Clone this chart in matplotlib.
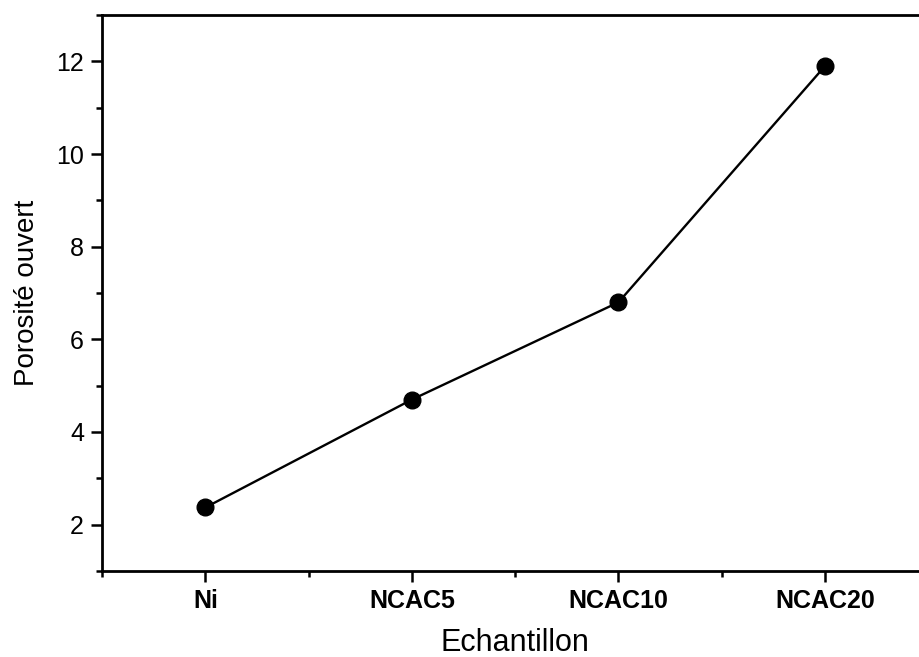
import matplotlib.pyplot as plt
import numpy as np
from matplotlib.ticker import MultipleLocator

plt.rcParams['font.family'] = ['Liberation Sans', 'DejaVu Sans']

samples = ['Ni', 'NCAC5', 'NCAC10', 'NCAC20']
porosity = [2.37, 4.7, 6.8, 11.9]

fig = plt.figure(figsize=(9.2, 6.57), dpi=100)
ax = fig.add_axes([0.111, 0.131, 0.898, 0.846])

x = np.arange(len(samples))
ax.plot(x, porosity, color='black', lw=1.7, marker='o', ms=12)

ax.set_xlim(-0.5, 3.5)
ax.set_ylim(1, 13)
ax.set_xticks(x)
ax.set_xticklabels(samples, fontsize=18, fontweight='bold')
ax.xaxis.set_minor_locator(MultipleLocator(0.5))
ax.yaxis.set_major_locator(MultipleLocator(2))
ax.yaxis.set_minor_locator(MultipleLocator(1))
ax.tick_params(which='major', direction='out', length=8, width=1.8, labelsize=18, pad=5)
ax.tick_params(which='minor', direction='out', length=4, width=1.8)

for s in ax.spines.values():
    s.set_linewidth(2)

ax.set_xlabel('Echantillon', fontsize=22, labelpad=11)
ax.set_ylabel('Porosité ouvert', fontsize=20, labelpad=12)

fig.savefig('out.png', dpi=100)
